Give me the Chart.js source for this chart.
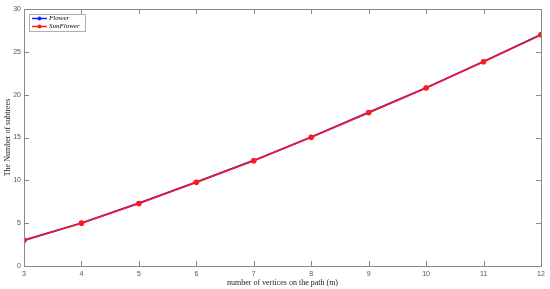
<!DOCTYPE html>
<html>
<head>
<meta charset="utf-8">
<script src="https://cdn.jsdelivr.net/npm/chart.js@4/dist/chart.umd.min.js"></script>
<style>
  html, body { margin: 0; padding: 0; background: #fff; }
  #wrap { width: 550px; height: 289px; }
</style>
</head>
<body>
<div id="wrap"><canvas id="subtreeChart"></canvas></div>
<script>
const vertices = [3, 4, 5, 6, 7, 8, 9, 10, 11, 12];
const flower = [3.0, 5.02, 7.33, 9.8, 12.32, 15.06, 17.93, 20.81, 23.87, 27.01];
const sunFlower = [3.0, 5.0, 7.3, 9.77, 12.29, 15.03, 17.9, 20.78, 23.84, 26.98];
const yTicks = [0, 5, 10, 15, 20, 25, 30];

const axisColor = '#8a8a8a';

// MATLAB-like box with inward ticks and a legend inside the plot
const boxPlugin = {
    id: 'boxPlugin',
    afterDraw(chart) {
        const { ctx, chartArea: a, scales } = chart;
        ctx.save();
        ctx.strokeStyle = axisColor;
        ctx.lineWidth = 1;
        ctx.strokeRect(a.left + 0.5, a.top + 0.5, a.right - a.left, a.bottom - a.top);
        const len = 5;
        ctx.beginPath();
        vertices.forEach(v => {
            const x = Math.round(scales.x.getPixelForValue(v)) + 0.5;
            ctx.moveTo(x, a.bottom); ctx.lineTo(x, a.bottom - len);
            ctx.moveTo(x, a.top); ctx.lineTo(x, a.top + len);
        });
        yTicks.forEach(v => {
            const y = Math.round(scales.y.getPixelForValue(v)) + 0.5;
            ctx.moveTo(a.left, y); ctx.lineTo(a.left + len, y);
            ctx.moveTo(a.right, y); ctx.lineTo(a.right - len, y);
        });
        ctx.stroke();

        // legend
        const lx = a.left + 5, ly = a.top + 5, lw = 56, lh = 17;
        ctx.fillStyle = '#fff';
        ctx.fillRect(lx, ly, lw, lh);
        ctx.strokeStyle = '#b0b0b0';
        ctx.strokeRect(lx + 0.5, ly + 0.5, lw, lh);
        ctx.font = 'italic 7px "Liberation Serif", serif';
        ctx.textBaseline = 'middle';
        chart.data.datasets.forEach((ds, i) => {
            const yy = ly + 4.5 + i * 8;
            ctx.strokeStyle = ds.borderColor;
            ctx.lineWidth = 1.5;
            ctx.beginPath();
            ctx.moveTo(lx + 3, yy); ctx.lineTo(lx + 18, yy);
            ctx.stroke();
            ctx.fillStyle = ds.borderColor;
            ctx.beginPath();
            ctx.arc(lx + 10.5, yy, 2, 0, Math.PI * 2);
            ctx.fill();
            ctx.fillStyle = '#000';
            ctx.fillText(ds.label, lx + 20, yy);
        });
        ctx.restore();
    }
};

new Chart(document.getElementById('subtreeChart').getContext('2d'), {
    type: 'line',
    data: {
        datasets: [{
            label: 'Flower',
            data: vertices.map((v, i) => ({ x: v, y: flower[i] })),
            borderColor: '#1a1aff',
            backgroundColor: '#1a1aff',
            borderWidth: 1.8,
            pointRadius: 2.3,
            pointBorderWidth: 0,
            order: 1
        }, {
            label: 'SunFlower',
            data: vertices.map((v, i) => ({ x: v, y: sunFlower[i] })),
            borderColor: '#ff1a1a',
            backgroundColor: '#ff1a1a',
            borderWidth: 1.6,
            pointRadius: 2.8,
            pointBorderWidth: 0,
            order: 0
        }]
    },
    options: {
        responsive: true,
        maintainAspectRatio: false,
        animation: false,
        layout: { padding: { top: 9, right: 9, left: 0, bottom: 0 } },
        scales: {
            x: {
                type: 'linear',
                min: 3,
                max: 12,
                afterBuildTicks: s => { s.ticks = vertices.map(v => ({ value: v })); },
                afterFit: s => { s.height = 23; },
                grid: { display: false, drawTicks: false },
                border: { display: false },
                ticks: {
                    color: '#555',
                    font: { family: '"Liberation Sans", sans-serif', size: 7 },
                    padding: 4,
                    maxRotation: 0
                },
                title: {
                    display: true,
                    text: 'number of vertices on the path (m)',
                    color: '#222',
                    font: { family: '"Liberation Serif", serif', size: 8 },
                    padding: { top: 0, bottom: 1 }
                }
            },
            y: {
                min: 0,
                max: 30,
                afterBuildTicks: s => { s.ticks = yTicks.map(v => ({ value: v })); },
                afterFit: s => { s.width = 24; },
                grid: { display: false, drawTicks: false },
                border: { display: false },
                ticks: {
                    color: '#555',
                    font: { family: '"Liberation Sans", sans-serif', size: 7 },
                    padding: 3
                },
                title: {
                    display: true,
                    text: 'The Number of subtrees',
                    color: '#222',
                    font: { family: '"Liberation Serif", serif', size: 8 },
                    padding: { top: 3, bottom: 0 }
                }
            }
        },
        plugins: {
            legend: { display: false },
            tooltip: { enabled: false }
        }
    },
    plugins: [boxPlugin]
});
</script>
</body>
</html>
